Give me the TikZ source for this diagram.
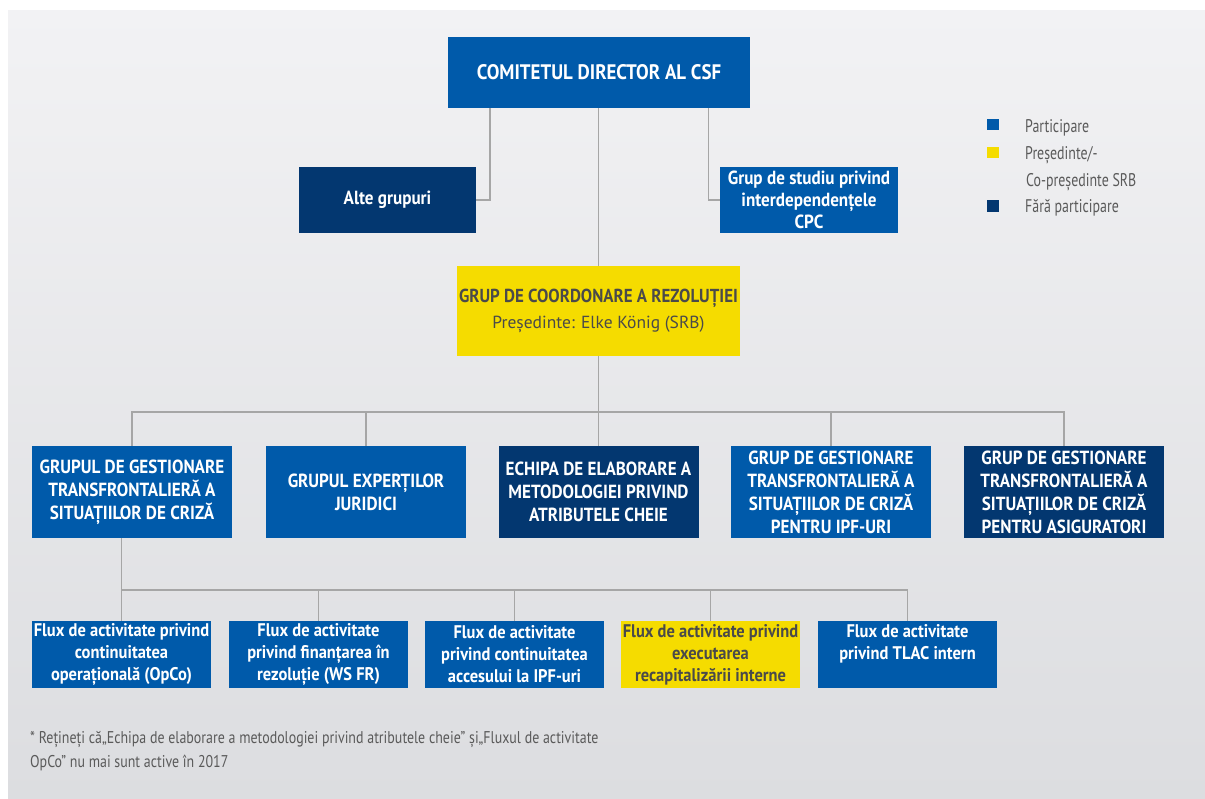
\documentclass[tikz,border=0pt]{standalone}
\usepackage{fontspec}
\setmainfont{PT Sans}[FakeStretch=0.9]
\newfontfamily\widefont{PT Sans}
\newfontfamily\condfont{PT Sans}[FakeStretch=0.82]
\newfontfamily\legfont{PT Sans}[FakeStretch=0.76]
\definecolor{cblue}{HTML}{005AAA}
\definecolor{cnavy}{HTML}{033770}
\definecolor{cyell}{HTML}{F5DC00}
\definecolor{cdark}{HTML}{4A4A4A}
\definecolor{cgreytxt}{HTML}{5A5A5A}
\definecolor{cline}{HTML}{A6A6A6}
\definecolor{bgtop}{HTML}{F2F2F4}
\definecolor{bgbot}{HTML}{DCDDE0}
\begin{document}
\begin{tikzpicture}[x=1pt,y=-1pt,
  boxbase/.style={inner sep=0pt, align=center, font=\bfseries\fontsize{19}{23}\selectfont},
  bluebox/.style={boxbase, fill=cblue, text=white},
  navybox/.style={boxbase, fill=cnavy, text=white},
  yellbox/.style={boxbase, fill=cyell, text=cdark},
  rowtwo/.style={minimum width=200pt, minimum height=92pt},
  rowthree/.style={minimum width=179pt, minimum height=67pt, font=\bfseries\fontsize{18.3}{22}\selectfont},
  conn/.style={draw=cline, line width=1.4pt},
  legsq/.style={inner sep=0pt, minimum size=11.5pt},
  legtxt/.style={anchor=base west, inner sep=0pt, text=cgreytxt, font=\legfont\fontsize{18.3}{27}\selectfont}
]
\useasboundingbox (0,0) rectangle (1205,798);
\fill[white] (0,0) rectangle (1205,798);
\shade[top color=bgtop, bottom color=bgbot] (8,10) rectangle (1205,798);

% top level
\node[bluebox, minimum width=302pt, minimum height=71pt, font=\bfseries\fontsize{21}{23}\selectfont] (top) at (599,72.5) {COMITETUL DIRECTOR AL CSF};
\node[navybox, minimum width=177pt, minimum height=66pt] (alte) at (387.5,200) {Alte grupuri};
\node[bluebox, minimum width=178pt, minimum height=66pt, font=\bfseries\fontsize{19}{22}\selectfont] (studiu) at (809,200) {Grup de studiu privind\\interdependențele\\CPC};
\node[yellbox, minimum width=283pt, minimum height=90pt, font=\bfseries\fontsize{18.8}{23}\selectfont] (coord) at (598.5,311) {GRUP DE COORDONARE A REZOLUȚIEI\\[3pt]{\mdseries\widefont\fontsize{17.5}{20}\selectfont Președinte: Elke König (SRB)}};

% second row
\node[bluebox, rowtwo] (g1) at (132,492) {GRUPUL DE GESTIONARE\\TRANSFRONTALIERĂ A\\SITUAȚIILOR DE CRIZĂ};
\node[bluebox, rowtwo] (g2) at (366,492) {GRUPUL EXPERȚILOR\\JURIDICI};
\node[navybox, rowtwo] (g3) at (598.5,492) {ECHIPA DE ELABORARE A\\METODOLOGIEI PRIVIND\\ATRIBUTELE CHEIE};
\node[bluebox, rowtwo] (g4) at (831,492) {GRUP DE GESTIONARE\\TRANSFRONTALIERĂ A\\SITUAȚIILOR DE CRIZĂ\\PENTRU IPF-URI};
\node[navybox, rowtwo] (g5) at (1064,492) {GRUP DE GESTIONARE\\TRANSFRONTALIERĂ A\\SITUAȚIILOR DE CRIZĂ\\PENTRU ASIGURATORI};

% third row
\node[bluebox, rowthree] (f1) at (121.5,654.5) {Flux de activitate privind\\continuitatea\\operațională (OpCo)};
\node[bluebox, rowthree] (f2) at (318.5,654.5) {Flux de activitate\\privind finanțarea în\\rezoluție (WS FR)};
\node[bluebox, rowthree] (f3) at (514.5,654.5) {Flux de activitate\\privind continuitatea\\accesului la IPF-uri};
\node[yellbox, rowthree] (f4) at (710.5,654.5) {Flux de activitate privind\\executarea\\recapitalizării interne};
\node[bluebox, rowthree] (f5) at (907.5,654.5) {\parbox[t][61pt][t]{176pt}{\centering Flux de activitate\\privind TLAC intern}};

% connectors
\coordinate (busA) at (598.5,412);
\coordinate (busB) at (121.5,590);
\draw[conn] ([xshift=42pt]top.south west) |- (alte.east);
\draw[conn] ([xshift=-42pt]top.south east) |- (studiu.west);
\draw[conn] (top.south -| coord.north) -- (coord.north);
\draw[conn] (coord.south) -- (busA);
\draw[conn] (g1.north) |- (busA);
\draw[conn] (g5.north) |- (busA);
\draw[conn] (g2.north) -- (g2.north |- busA);
\draw[conn] (g3.north) -- (g3.north |- busA);
\draw[conn] (g4.north) -- (g4.north |- busA);
\draw[conn] (g1.south -| f1.north) -- (f1.north);
\draw[conn] (busB) -| (f5.north);
\draw[conn] (f2.north) -- (f2.north |- busB);
\draw[conn] (f3.north) -- (f3.north |- busB);
\draw[conn] (f4.north) -- (f4.north |- busB);

% legend
\node[legsq, fill=cblue] (l1) at (993,124.5) {};
\node[legsq, fill=cyell] (l2) at (993,152.5) {};
\node[legsq, fill=cnavy] (l3) at (993,206) {};
\node[legtxt] (t1) at (1025,132) {Participare};
\node[legtxt] (t2) at (1025,159) {Președinte/-};
\node[legtxt] (t2b) at (1026,186) {Co-președinte SRB};
\node[legtxt] (t3) at (1025,212.5) {Fără participare};

% footnote
\node[anchor=north west, inner sep=0pt, text=cgreytxt, align=left, font=\condfont\fontsize{17}{24}\selectfont] (note) at (30,731) {* Rețineți că„Echipa de elaborare a metodologiei privind atributele cheie” și„Fluxul de activitate\\OpCo” nu mai sunt active în 2017};
\end{tikzpicture}
\end{document}
